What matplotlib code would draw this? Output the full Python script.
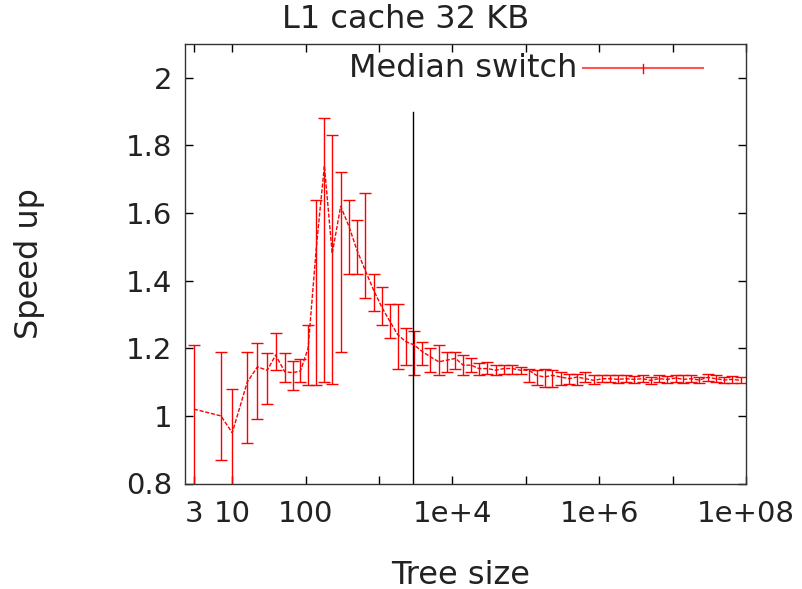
import matplotlib
matplotlib.use("Agg")
import matplotlib.pyplot as plt

# tree sizes and measured speed-up (median, min, max)
sizes = [3, 7, 10, 16, 22, 30, 39, 52, 68, 85,
         108, 140, 180, 230, 300, 390, 500, 650, 850, 1100,
         1400, 1800, 2300, 3000, 3900, 5000, 6500, 8500, 11000, 14000,
         18000, 23000, 30000, 39000, 50000, 65000, 85000, 110000, 140000, 180000,
         230000, 300000, 390000, 500000, 650000, 850000, 1100000, 1400000, 1800000, 2300000,
         3000000, 3900000, 5000000, 6500000, 8500000, 11000000, 14000000, 18000000, 23000000, 30000000,
         39000000, 50000000, 65000000, 85000000]
speedup = [1.02, 1.00, 0.95, 1.10, 1.145, 1.135, 1.18, 1.13, 1.128, 1.133,
           1.20, 1.50, 1.74, 1.48, 1.62, 1.56, 1.49, 1.43, 1.37, 1.32,
           1.28, 1.24, 1.22, 1.21, 1.19, 1.175, 1.16, 1.165, 1.17, 1.15,
           1.15, 1.14, 1.14, 1.135, 1.14, 1.14, 1.135, 1.135, 1.12, 1.115,
           1.12, 1.115, 1.11, 1.115, 1.11, 1.105, 1.11, 1.11, 1.108, 1.11,
           1.108, 1.11, 1.105, 1.11, 1.108, 1.112, 1.108, 1.11, 1.106, 1.114,
           1.11, 1.106, 1.108, 1.105]
low = [0.70, 0.87, 0.70, 0.92, 0.99, 1.035, 1.135, 1.10, 1.077, 1.10,
       1.09, 1.09, 1.10, 1.095, 1.19, 1.42, 1.42, 1.35, 1.31, 1.27,
       1.23, 1.14, 1.15, 1.12, 1.15, 1.13, 1.12, 1.13, 1.14, 1.12,
       1.13, 1.12, 1.125, 1.12, 1.125, 1.125, 1.125, 1.10, 1.09, 1.085,
       1.085, 1.09, 1.095, 1.09, 1.10, 1.095, 1.10, 1.10, 1.098, 1.10,
       1.096, 1.10, 1.095, 1.10, 1.098, 1.10, 1.097, 1.10, 1.096, 1.103,
       1.10, 1.096, 1.098, 1.096]
high = [1.21, 1.19, 1.08, 1.19, 1.215, 1.185, 1.245, 1.185, 1.163, 1.168,
        1.27, 1.64, 1.88, 1.83, 1.72, 1.64, 1.58, 1.66, 1.42, 1.38,
        1.33, 1.33, 1.26, 1.25, 1.22, 1.20, 1.21, 1.19, 1.19, 1.18,
        1.17, 1.155, 1.16, 1.15, 1.15, 1.15, 1.145, 1.14, 1.135, 1.14,
        1.135, 1.13, 1.125, 1.125, 1.13, 1.12, 1.12, 1.12, 1.12, 1.12,
        1.118, 1.12, 1.115, 1.12, 1.118, 1.122, 1.12, 1.12, 1.116, 1.124,
        1.12, 1.116, 1.118, 1.115]

cache_size = 2900   # elements fitting in 32 KB
xticks = [3, 10, 100, 1000, 1e4, 1e5, 1e6, 1e7, 1e8]
xticklabels = ["3", "10", "100", "", "1e+4", "", "1e+6", "", "1e+08"]
yticks = [0.8, 1.0, 1.2, 1.4, 1.6, 1.8, 2.0]
yticklabels = ["0.8", "1", "1.2", "1.4", "1.6", "1.8", "2"]

plt.rcParams['font.family'] = 'DejaVu Sans'
fs = 23
tfs = 21

fig = plt.figure(figsize=(8.02, 5.89), dpi=100)
ax = fig.add_axes([185/802, 1 - 483.5/589, (746-185)/802, (483.5-44)/589])

yerr = [[s - l for s, l in zip(speedup, low)], [h - s for s, h in zip(speedup, high)]]
ax.errorbar(sizes, speedup, yerr=yerr, color='red', lw=1.0, ls=(0, (3, 1.2)),
            elinewidth=1.0, capsize=4.5, capthick=1.0)

ax.plot([cache_size, cache_size], [0.8, 1.9], color='black', lw=1.0)

ax.set_xscale('log')
ax.set_xlim(2.27, 1e8)
ax.set_ylim(0.8, 2.1)
ax.minorticks_off()
ax.set_xticks(xticks)
ax.set_xticklabels(xticklabels, fontsize=tfs, color='#222222')
ax.set_yticks(yticks)
ax.set_yticklabels(yticklabels, fontsize=tfs, color='#222222')
ax.tick_params(direction='in', length=6, width=1, top=True, right=True, pad=12)
ax.tick_params(axis='y', pad=9)
for sp in ax.spines.values():
    sp.set_linewidth(1)
    sp.set_color('#333333')

# gnuplot-style key in the top right
ax.text(0.700, 0.945, "Median switch", transform=ax.transAxes, fontsize=fs,
        ha='right', va='center', color='#222222')
ax.plot([0.709, 0.923], [0.945, 0.945], transform=ax.transAxes, color='#ff5555', lw=1.5)
ax.plot([0.816, 0.816], [0.935, 0.955], transform=ax.transAxes, color='red', lw=1.0)

fig.text(406/802, 1 - 20/589, "L1 cache 32 KB", fontsize=fs, ha='center', va='center', color='#222222')
fig.text(461/802, 1 - 575/589, "Tree size", fontsize=fs, ha='center', va='center', color='#222222')
fig.text(30/802, 1 - 264/589, "Speed up", fontsize=fs, ha='center', va='center', rotation=90, color='#222222')

fig.savefig("out.png", dpi=100)
